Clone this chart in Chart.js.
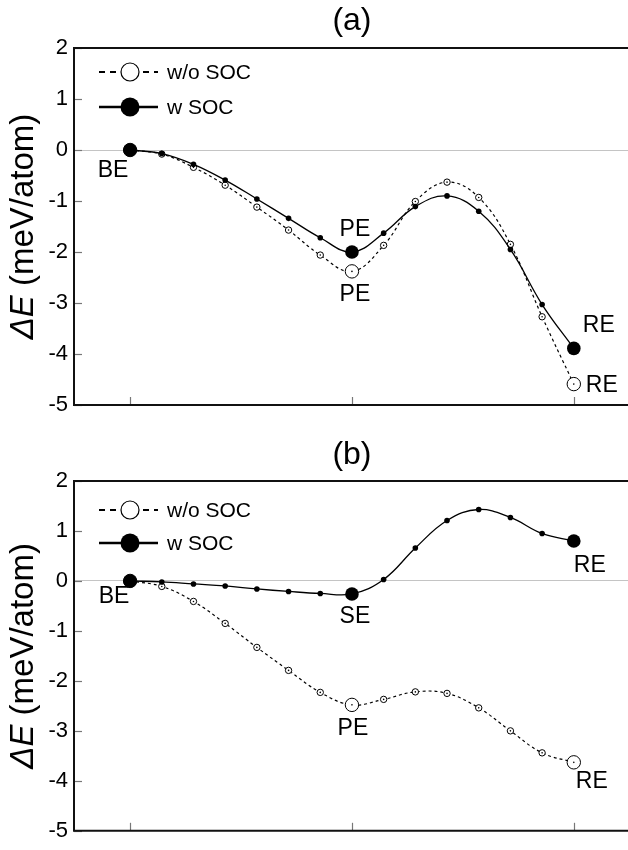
<!DOCTYPE html>
<html>
<head>
<meta charset="utf-8">
<script src="https://cdn.jsdelivr.net/npm/chart.js@4"></script>
<style>
  body { margin: 0; background: #fff; }
  canvas { display: block; }
</style>
</head>
<body>
<canvas id="panelA" width="628" height="432"></canvas>
<canvas id="panelB" width="628" height="418"></canvas>
<script>
// reaction coordinate steps (BE -> PE/SE -> RE)
const steps = [0, 1, 2, 3, 4, 5, 6, 7, 8, 9, 10, 11, 12, 13, 14];
const keySteps = [0, 7, 14];
const yTicks = [-5, -4, -3, -2, -1, 0, 1, 2];

// panel (a), meV/atom
const aNoSOC = [0, -0.08, -0.34, -0.69, -1.12, -1.57, -2.06, -2.38, -1.87, -1.01, -0.63, -0.93, -1.85, -3.27, -4.59];
const aSOC   = [0, -0.07, -0.28, -0.59, -0.96, -1.34, -1.72, -2.00, -1.63, -1.11, -0.90, -1.20, -1.95, -3.03, -3.89];

// panel (b), meV/atom
const bNoSOC = [0, -0.11, -0.41, -0.85, -1.33, -1.79, -2.23, -2.48, -2.37, -2.22, -2.25, -2.54, -3.00, -3.44, -3.63];
const bSOC   = [0, -0.02, -0.06, -0.10, -0.16, -0.21, -0.25, -0.26, 0.03, 0.66, 1.21, 1.43, 1.27, 0.95, 0.80];

const seriesNames = ['w/o SOC', 'w SOC'];

// point labels: dataset (0 = w/o, 1 = w), step, text
const aTags = [
  { ds: 1, i: 0, text: 'BE', dx: -17, dy: 21 },
  { ds: 1, i: 7, text: 'PE', dx: 3, dy: -22 },
  { ds: 0, i: 7, text: 'PE', dx: 3, dy: 23 },
  { ds: 1, i: 14, text: 'RE', dx: 25, dy: -23 },
  { ds: 0, i: 14, text: 'RE', dx: 28, dy: 2 }
];
const bTags = [
  { ds: 1, i: 0, text: 'BE', dx: -16, dy: 16 },
  { ds: 1, i: 7, text: 'SE', dx: 3, dy: 23 },
  { ds: 0, i: 7, text: 'PE', dx: 1, dy: 24 },
  { ds: 1, i: 14, text: 'RE', dx: 16, dy: 25 },
  { ds: 0, i: 14, text: 'RE', dx: 18, dy: 19 }
];

const FONT = '"Liberation Sans", Arial, sans-serif';

const decor = {
  id: 'decor',
  afterDatasetsDraw(chart, args, o) {
    const ctx = chart.ctx;
    // centre dots of open markers
    const meta = chart.getDatasetMeta(0);
    ctx.save();
    ctx.fillStyle = '#000';
    meta.data.forEach(p => {
      ctx.beginPath();
      ctx.arc(p.x, p.y, 0.8, 0, Math.PI * 2);
      ctx.fill();
    });
    // point labels
    ctx.font = '23px ' + FONT;
    ctx.textAlign = 'center';
    ctx.textBaseline = 'middle';
    o.tags.forEach(t => {
      const p = chart.getDatasetMeta(t.ds).data[t.i];
      ctx.fillText(t.text, p.x + t.dx, p.y + t.dy);
    });
    ctx.restore();
  },
  afterDraw(chart, args, o) {
    const ctx = chart.ctx;
    const a = chart.chartArea;
    const xs = chart.scales.x, ys = chart.scales.y;
    ctx.save();
    // inward ticks
    ctx.strokeStyle = '#777';
    ctx.lineWidth = 1.2;
    keySteps.forEach(v => {
      const x = Math.round(xs.getPixelForValue(v)) + 0.5;
      ctx.beginPath(); ctx.moveTo(x, a.bottom); ctx.lineTo(x, a.bottom - 8); ctx.stroke();
    });
    yTicks.forEach(v => {
      const y = Math.round(ys.getPixelForValue(v)) + 0.5;
      ctx.beginPath(); ctx.moveTo(a.left, y); ctx.lineTo(a.left + 8, y); ctx.stroke();
    });
    // frame: left, top, bottom
    ctx.strokeStyle = '#111';
    ctx.lineWidth = 2;
    ctx.beginPath();
    ctx.moveTo(a.right, a.top); ctx.lineTo(a.left, a.top);
    ctx.lineTo(a.left, a.bottom); ctx.lineTo(a.right, a.bottom);
    ctx.stroke();

    // panel title
    ctx.fillStyle = '#000';
    ctx.font = '32px ' + FONT;
    ctx.textAlign = 'center';
    ctx.textBaseline = 'middle';
    ctx.fillText(o.title, xs.getPixelForValue(7), o.titleY);

    // y axis title: italic "ΔE" + " (meV/atom)"
    const cy = (a.top + a.bottom) / 2;
    ctx.translate(24, cy);
    ctx.rotate(-Math.PI / 2);
    ctx.textAlign = 'left';
    const f1 = 'italic 33px ' + FONT, f2 = '33px ' + FONT;
    ctx.font = f1; const w1 = ctx.measureText('ΔE').width;
    ctx.font = f2; const w2 = ctx.measureText(' (meV/atom)').width;
    const x0 = -(w1 + w2) / 2;
    ctx.font = f1; ctx.fillText('ΔE', x0, 0);
    ctx.font = f2; ctx.fillText(' (meV/atom)', x0 + w1, 0);
    ctx.setTransform(1, 0, 0, 1, 0, 0);

    // legend
    const lx = a.left + 25, mx = a.left + 56, rx = a.left + 84, tx = a.left + 93;
    o.legendY.forEach((ly, k) => {
      ctx.strokeStyle = '#000';
      ctx.lineWidth = k === 0 ? 2 : 2.5;
      ctx.setLineDash(k === 0 ? [6, 5] : []);
      ctx.beginPath(); ctx.moveTo(lx, ly); ctx.lineTo(rx, ly); ctx.stroke();
      ctx.setLineDash([]);
      ctx.beginPath(); ctx.arc(mx, ly, k === 0 ? 9 : 9.5, 0, Math.PI * 2);
      if (k === 0) { ctx.fillStyle = '#fff'; ctx.fill(); ctx.lineWidth = 1.2; ctx.stroke(); }
      else { ctx.fillStyle = '#000'; ctx.fill(); }
      ctx.fillStyle = '#000';
      ctx.font = '21px ' + FONT;
      ctx.textAlign = 'left';
      ctx.textBaseline = 'middle';
      ctx.fillText(seriesNames[k], tx, ly + 1);
    });
    ctx.restore();
  }
};

function pts(vals) {
  return steps.map((s, i) => ({ x: s, y: vals[i] }));
}

function makePanel(id, noSoc, soc, opts) {
  const isKey = c => keySteps.includes(c.dataIndex);
  return new Chart(document.getElementById(id), {
    type: 'line',
    data: {
      datasets: [
        {
          label: seriesNames[0],
          data: pts(noSoc),
          borderColor: '#000',
          borderWidth: 1.2,
          borderDash: [3, 3],
          tension: 0.4,
          pointStyle: 'circle',
          pointRadius: c => isKey(c) ? 6.7 : 3.2,
          pointBackgroundColor: '#fff',
          pointBorderColor: '#000',
          pointBorderWidth: 1,
          order: 2
        },
        {
          label: seriesNames[1],
          data: pts(soc),
          borderColor: '#000',
          borderWidth: 1.3,
          tension: 0.4,
          pointStyle: 'circle',
          pointRadius: c => isKey(c) ? 6.8 : 2.8,
          pointBackgroundColor: '#000',
          pointBorderColor: '#000',
          pointBorderWidth: 0,
          order: 1
        }
      ]
    },
    options: {
      responsive: false,
      animation: false,
      layout: { autoPadding: false, padding: { top: opts.top, bottom: opts.bottom, left: 0, right: 0 } },
      plugins: {
        legend: { display: false },
        tooltip: { enabled: false },
        decor: { title: opts.title, titleY: opts.titleY, legendY: opts.legendY, tags: opts.tags }
      },
      scales: {
        x: {
          type: 'linear',
          min: -1.77,
          max: 15.71,
          ticks: { display: false },
          grid: { display: false },
          border: { display: false },
          afterFit: s => { s.height = 0; }
        },
        y: {
          min: -5,
          max: 2,
          afterBuildTicks: s => { s.ticks = yTicks.map(v => ({ value: v })); },
          ticks: { color: '#000', font: { family: FONT, size: 22 }, padding: 6 },
          grid: {
            drawTicks: false,
            color: c => c.tick && c.tick.value === 0 ? '#c4c4c4' : 'rgba(0,0,0,0)',
            lineWidth: 1
          },
          border: { display: false },
          afterFit: s => { s.width = 74; }
        }
      }
    },
    plugins: [decor]
  });
}

makePanel('panelA', aNoSOC, aSOC, { title: '(a)', titleY: 21, top: 48, bottom: 27, legendY: [72, 107], tags: aTags });
makePanel('panelB', bNoSOC, bSOC, { title: '(b)', titleY: 23, top: 49, bottom: 13, legendY: [78, 111], tags: bTags });
</script>
</body>
</html>
